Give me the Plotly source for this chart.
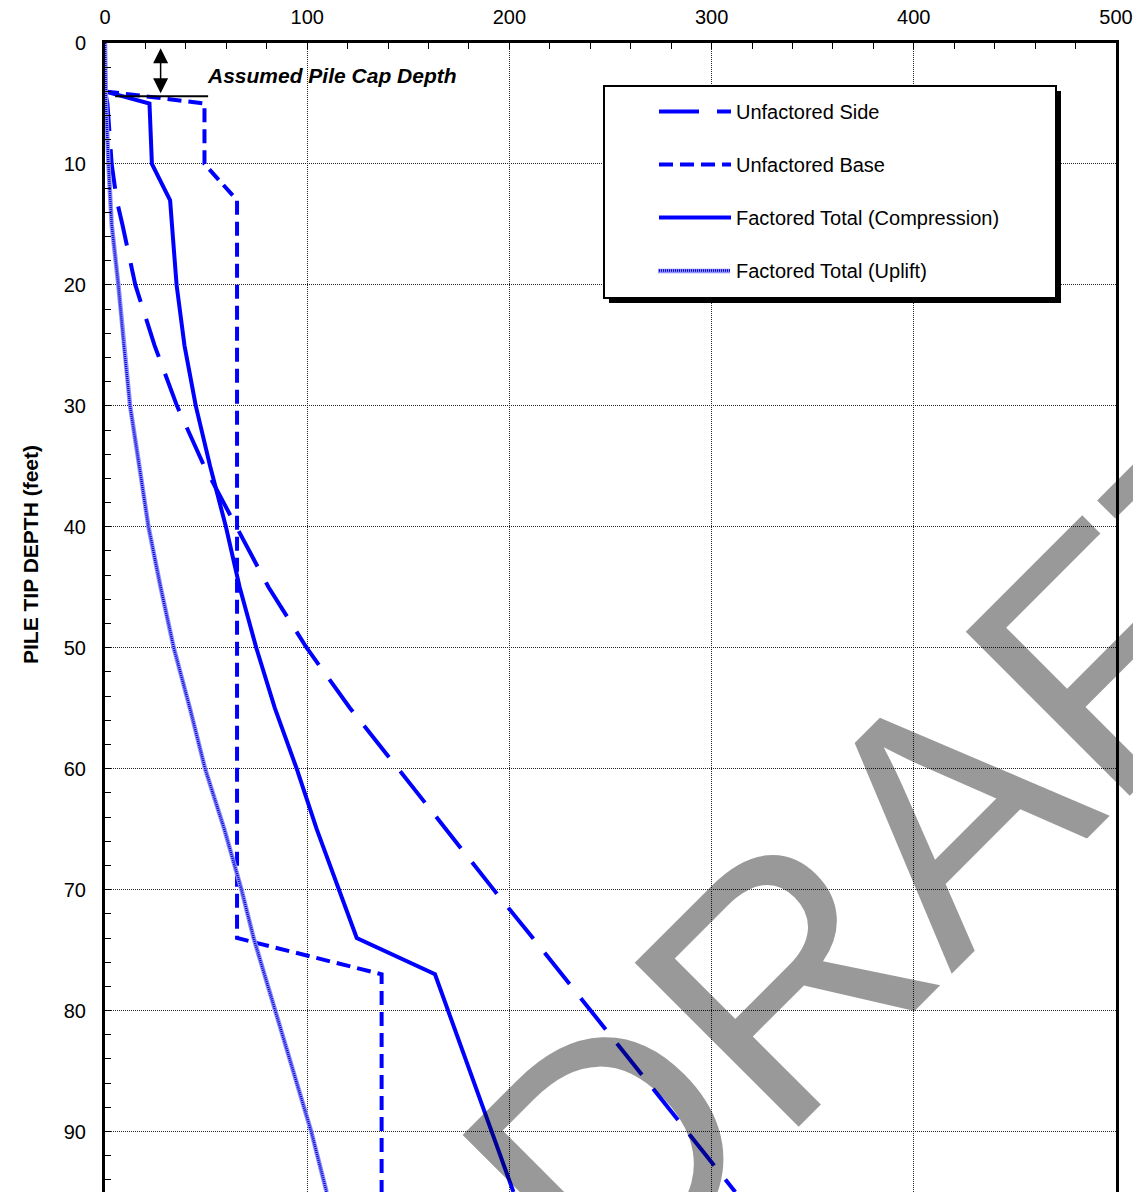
import plotly.graph_objects as go

# Pile capacity vs. pile tip depth (kips vs. feet)
depth_side = [4, 5, 10, 13, 15, 20, 25, 30, 35, 40, 45, 50, 55, 60, 65, 70, 74, 77, 80, 85, 90, 95]
side = [0, 1.2, 3.3, 5.8, 8.6, 15.0, 24.5, 35.6, 49.1, 64.8, 80.9, 99.7, 121.2, 145.0,
        168.3, 192.2, 211.6, 226.0, 240.2, 264.0, 287.9, 311.7]

depth_base = [4, 5, 10, 13, 74, 77, 95]
base = [0, 49.2, 49.2, 65.3, 65.3, 136.8, 136.8]

depth_comp = [4, 5, 10, 13, 15, 20, 25, 30, 35, 40, 45, 50, 55, 60, 65, 70, 74, 77, 95]
comp = [0, 22.0, 23.2, 32.2, 33.1, 35.4, 39.3, 44.9, 52.0, 59.8, 66.6, 74.8, 84.0, 94.8,
        104.7, 115.5, 124.5, 163.2, 202.0]

depth_uplift = [0, 4, 5, 10, 15, 20, 25, 30, 35, 40, 45, 50, 55, 60, 65, 70, 74, 77, 80, 85, 90, 95]
uplift = [0, 0.3, 0.5, 1.7, 3.3, 6.6, 9.3, 12.4, 17.0, 21.5, 27.5, 34.0, 42.0, 49.5,
          59.0, 67.5, 73.5, 78.8, 84.2, 93.2, 102.0, 109.6]

series_names = ["Unfactored Side", "Unfactored Base",
                "Factored Total (Compression)", "Factored Total (Uplift)"]

x_ticks = [0, 100, 200, 300, 400, 500]
y_ticks = [0, 10, 20, 30, 40, 50, 60, 70, 80, 90]

cap_depth = 4.4
FONT = "Liberation Sans, Arial, sans-serif"
BLUE = "#0000ff"

W, H = 1133, 1192
ML, MR, MT, MB = 105, 17, 43, 0
PW, PH = W - ML - MR, H - MT - MB


def px_x(p):
    return (p - ML) / PW


def px_y(p):
    return (H - MB - p) / PH


fig = go.Figure()

fig.add_trace(go.Scatter(
    x=side, y=depth_side, mode="lines", name=series_names[0],
    line=dict(color=BLUE, width=4, dash="40px,18px"), legendgroup="g1"))
fig.add_trace(go.Scatter(
    x=base, y=depth_base, mode="lines", name=series_names[1],
    line=dict(color=BLUE, width=4, dash="14px,7px"), legendgroup="g2"))
fig.add_trace(go.Scatter(
    x=comp, y=depth_comp, mode="lines", name=series_names[2],
    line=dict(color=BLUE, width=4), legendgroup="g3"))
# hatched uplift line: pale body with a fine dotted core
fig.add_trace(go.Scatter(
    x=uplift, y=depth_uplift, mode="lines", showlegend=False,
    line=dict(color="#9090ff", width=4.5), legendgroup="g4", hoverinfo="skip"))
fig.add_trace(go.Scatter(
    x=uplift, y=depth_uplift, mode="lines", name=series_names[3],
    line=dict(color="#0000d0", width=2.5, dash="1px,1px"), legendgroup="g4"))

# legend frame with drop shadow
fig.add_shape(type="rect", xref="paper", yref="paper",
              x0=px_x(609), x1=px_x(1061), y0=px_y(303), y1=px_y(91),
              fillcolor="black", line=dict(width=0), layer="above")
fig.add_shape(type="rect", xref="paper", yref="paper",
              x0=px_x(604), x1=px_x(1056), y0=px_y(298), y1=px_y(86),
              fillcolor="white", line=dict(color="black", width=2), layer="above")
# pale body behind the uplift legend sample
fig.add_shape(type="line", xref="paper", yref="paper",
              x0=px_x(658), x1=px_x(730), y0=px_y(271), y1=px_y(271),
              line=dict(color="#9090ff", width=4.5), layer="above")

# pile cap marker
fig.add_shape(type="line", xref="x", yref="y", x0=5, x1=51, y0=cap_depth, y1=cap_depth,
              line=dict(color="black", width=2), layer="above")
fig.add_annotation(x=27.5, y=4.15, ax=27.5, ay=0.3, axref="x", ayref="y", xref="x", yref="y",
                   text="", showarrow=True, arrowhead=2, startarrowhead=2, arrowside="end+start",
                   arrowwidth=1.5, arrowsize=2, startarrowsize=2, arrowcolor="black")
fig.add_annotation(x=49.5, y=2.65, xref="x", yref="y", text="Assumed Pile Cap Depth",
                   showarrow=False, xanchor="left", yanchor="middle",
                   font=dict(family=FONT, size=21, color="black", weight="bold", style="italic"))

# y axis title
fig.add_annotation(x=px_x(30), y=px_y(555), xref="paper", yref="paper",
                   text="PILE TIP DEPTH (feet)", showarrow=False, textangle=-90,
                   xanchor="center", yanchor="middle",
                   font=dict(family=FONT, size=21, color="black", weight="bold"))

# watermark
fig.add_annotation(x=px_x(921), y=px_y(839), xref="paper", yref="paper",
                   text="DRAFT", showarrow=False, textangle=-45,
                   xanchor="center", yanchor="middle",
                   font=dict(family=FONT, size=337, color="rgba(0,0,0,0.4)"))

fig.update_layout(
    width=W, height=H,
    margin=dict(l=ML, r=MR, t=MT, b=MB, pad=0),
    paper_bgcolor="white", plot_bgcolor="white",
    font=dict(family=FONT, size=20, color="black"),
    showlegend=True,
    legend=dict(x=px_x(654), y=px_y(92), xanchor="left", yanchor="top",
                bgcolor="rgba(0,0,0,0)", borderwidth=0,
                font=dict(family=FONT, size=20, color="black"),
                itemwidth=72, tracegroupgap=24, traceorder="grouped"),
)

fig.update_xaxes(
    range=[0, 500], side="top", tickvals=x_ticks, ticktext=[str(v) for v in x_ticks],
    showline=True, linecolor="black", linewidth=3, mirror=False,
    ticks="inside", ticklen=6, tickcolor="black", tickwidth=1,
    ticklabelstandoff=8,
    showgrid=True, gridcolor="#222", gridwidth=1, griddash="1px,1px",
    minor=dict(dtick=20, ticks="inside", ticklen=6, tickcolor="black", showgrid=False),
    zeroline=False, fixedrange=True,
)
fig.update_yaxes(
    range=[95, 0], tickvals=y_ticks, ticktext=[str(v) for v in y_ticks],
    showline=True, linecolor="black", linewidth=3, mirror=True,
    ticks="inside", ticklen=6, tickcolor="black", tickwidth=1,
    ticklabelstandoff=12,
    showgrid=True, gridcolor="#222", gridwidth=1, griddash="1px,1px",
    minor=dict(dtick=2, ticks="inside", ticklen=6, tickcolor="black", showgrid=False),
    zeroline=False, fixedrange=True,
)

fig.write_html("out.html")
